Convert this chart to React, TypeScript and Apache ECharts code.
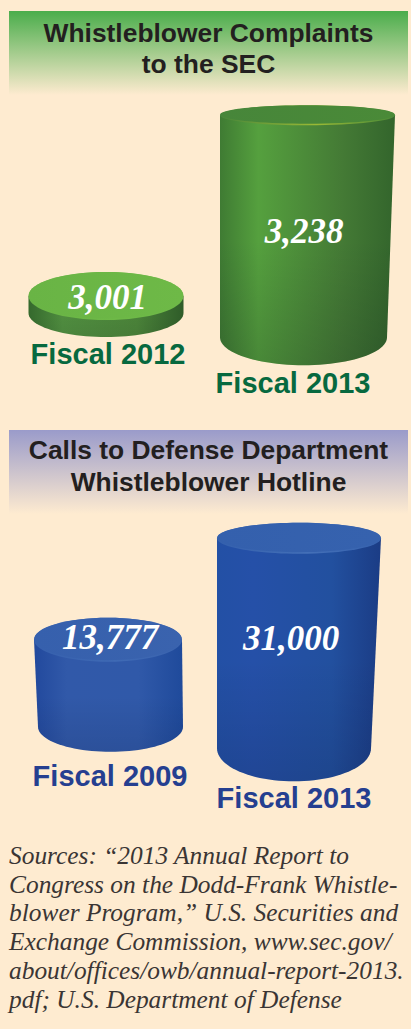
import React, { useEffect, useRef } from "react";
import * as echarts from "echarts";

// ---- data ----
const secYears = ["Fiscal 2012", "Fiscal 2013"];
const secComplaints = [3001, 3238];
const dodYears = ["Fiscal 2009", "Fiscal 2013"];
const dodCalls = [13777, 31000];
const secTitle = "Whistleblower Complaints\nto the SEC";
const dodTitle = "Calls to Defense Department\nWhistleblower Hotline";
const sourceLines = [
  "Sources: \u201c2013 Annual Report to",
  "Congress on the Dodd-Frank Whistle-",
  "blower Program,\u201d U.S. Securities and",
  "Exchange Commission, www.sec.gov/",
  "about/offices/owb/annual-report-2013.",
  "pdf; U.S. Department of Defense",
];

// ---- drawing styles ----
const BG = "#feebd0";
const GREEN_LABEL = "#07693f";
const BLUE_LABEL = "#253f90";
const SANS = '"Liberation Sans", Arial, sans-serif';
const SERIF = '"Liberation Serif", serif';

// Look of each drum: perspective offsets are in pixels relative to the data point.
const secShapes = [
  { rx: 77.5, ry: 24, bx: 0, brx: 77.5, bry: 24, by: 17, ly: 354, lx: 2, vx: 1.5, vy: 1,
    side: ["#35692d", "#4f8c3f", "#4a8239", "#2f5c29"], top: ["#69b445", "#6eb947"], rim: "#6eb947", shade: 0.05 },
  { rx: 87.5, ry: 10, bx: -4, brx: 83.5, bry: 28, by: 222, ly: 383, lx: -14.5, vx: -3.5, vy: 116,
    side: ["#3f7b33", "#55a03e", "#447a35", "#33652c"], top: ["#47863a", "#4a8a38"], rim: "#9ab935", shade: 0.15 },
];
const dodShapes = [
  { rx: 74, ry: 22, bx: 2.5, brx: 72.5, bry: 25, by: 87, ly: 776, lx: 2, vx: 2, vy: -2,
    side: ["#22499d", "#3159a9", "#3059a9", "#1f4a9b"], top: ["#3660ad", "#3a63ae"], rim: "#3f6ab5", shade: 0.1 },
  { rx: 82, ry: 15.5, bx: -5, brx: 77, bry: 33, by: 210, ly: 798, lx: -5, vx: -8, vy: 100,
    side: ["#2350a5", "#2550a8", "#22509f", "#1b3c85"], top: ["#3460ad", "#3662ae"], rim: "#4470b8", shade: 0.13 },
];

function hGrad(c: string[]) {
  return new echarts.graphic.LinearGradient(0, 0, 1, 0, [
    { offset: 0, color: c[0] },
    { offset: 0.22, color: c[1] },
    { offset: 0.7, color: c[2] },
    { offset: 1, color: c[3] },
  ]);
}

function drumSeries(
  axisIndex: number,
  names: string[],
  values: number[],
  shapes: typeof secShapes,
  labelColor: string
) {
  return {
    type: "custom",
    xAxisIndex: axisIndex,
    yAxisIndex: axisIndex,
    clip: false,
    silent: true,
    data: values.map((v, i) => [names[i], v]),
    renderItem: (params: any, api: any) => {
      const i = params.dataIndex;
      const s = shapes[i];
      const [cx, cy] = api.coord([api.value(0), api.value(1)]);
      const bcx = cx + s.bx;
      const bcy = cy + s.by;
      const pts: number[][] = [];
      const N = 48;
      // upper chord of the top ellipse runs behind the cap; lower half closes the drum
      pts.push([cx - s.rx, cy], [cx + s.rx, cy]);
      for (let k = 0; k <= N; k++) {
        const a = (Math.PI * k) / N;
        pts.push([bcx + s.brx * Math.cos(a), bcy + s.bry * Math.sin(a)]);
      }
      return {
        type: "group",
        children: [
          { type: "polygon", shape: { points: pts }, style: { fill: hGrad(s.side) } },
          {
            type: "polygon",
            shape: { points: pts },
            style: {
              fill: new echarts.graphic.LinearGradient(0, 0, 0, 1, [
                { offset: 0, color: "rgba(0,0,20,0)" },
                { offset: 0.5, color: "rgba(0,0,20,0)" },
                { offset: 1, color: `rgba(0,0,20,${s.shade})` },
              ]),
            },
          },
          {
            type: "ellipse",
            shape: { cx, cy, rx: s.rx, ry: s.ry },
            style: {
              fill: new echarts.graphic.LinearGradient(0, 0, 1, 0, [
                { offset: 0, color: s.top[0] },
                { offset: 0.55, color: s.rim },
                { offset: 1, color: s.top[1] },
              ]),
            },
          },
          {
            type: "ellipse",
            shape: { cx, cy: cy - 0.8, rx: s.rx - 0.3, ry: s.ry - 0.8 },
            style: {
              fill: new echarts.graphic.LinearGradient(0, 0, 1, 0, [
                { offset: 0, color: s.top[0] },
                { offset: 1, color: s.top[1] },
              ]),
            },
          },
          {
            type: "text",
            x: cx + s.vx,
            y: cy + s.vy,
            style: {
              text: values[i].toLocaleString("en-US"),
              fill: "#ffffff",
              fontFamily: SERIF,
              fontStyle: "italic",
              fontWeight: "bold",
              fontSize: 35,
              textAlign: "center",
              textVerticalAlign: "middle",
            },
          },
          {
            type: "text",
            x: cx + s.lx,
            y: s.ly,
            style: {
              text: names[i],
              fill: labelColor,
              fontFamily: SANS,
              fontWeight: "bold",
              fontSize: 29,
              textAlign: "center",
              textVerticalAlign: "middle",
            },
          },
        ],
      };
    },
  };
}

function headerRect(y: number, color: string) {
  return {
    type: "rect",
    shape: { x: 9, y, width: 399, height: 84 },
    style: {
      fill: new echarts.graphic.LinearGradient(0, 0, 0, 1, [
        { offset: 0, color },
        { offset: 1, color: BG },
      ]),
    },
    silent: true,
  };
}

const hiddenX = (gridIndex: number, data: string[]) => ({
  type: "category" as const,
  gridIndex,
  data,
  show: false,
});
const hiddenY = (gridIndex: number, min: number, max: number) => ({
  type: "value" as const,
  gridIndex,
  min,
  max,
  show: false,
});

export default function App() {
  const ref = useRef<HTMLDivElement>(null);
  useEffect(() => {
    const chart = echarts.init(ref.current!, undefined, { renderer: "svg" });
    chart.setOption({
      animation: false,
      backgroundColor: BG,
      title: [
        {
          text: secTitle,
          left: 203.5,
          top: 12,
          textAlign: "center",
          textStyle: { fontFamily: SANS, fontWeight: "bold", fontSize: 26.4, lineHeight: 31, color: "#231f20" },
        },
        {
          text: dodTitle,
          left: 203.5,
          top: 429,
          textAlign: "center",
          textStyle: { fontFamily: SANS, fontWeight: "bold", fontSize: 26.4, lineHeight: 32, color: "#231f20" },
        },
      ],
      grid: [
        { left: 5.25, width: 403, top: 100, height: 270 },
        { left: 12.5, width: 382, top: 500, height: 221 },
      ],
      xAxis: [hiddenX(0, secYears), hiddenX(1, dodYears)],
      yAxis: [hiddenY(0, 2904, 3258), hiddenY(1, 0, 37500)],
      graphic: [
        headerRect(11, "#4aad4b"),
        headerRect(430, "#9a9bca"),
        ...sourceLines.map((line, i) => ({
          type: "text",
          x: 9,
          y: 855 + i * 28.7,
          silent: true,
          style: {
            text: line,
            fill: "#3a3534",
            fontFamily: SERIF,
            fontStyle: "italic",
            fontSize: 25.4,
            textAlign: "left",
            textVerticalAlign: "middle",
          },
        })),
      ],
      series: [
        drumSeries(0, secYears, secComplaints, secShapes, GREEN_LABEL),
        drumSeries(1, dodYears, dodCalls, dodShapes, BLUE_LABEL),
      ],
    });
    return () => chart.dispose();
  }, []);
  return <div ref={ref} style={{ position: "absolute", left: 0, top: 0, width: 411, height: 1029 }} />;
}
